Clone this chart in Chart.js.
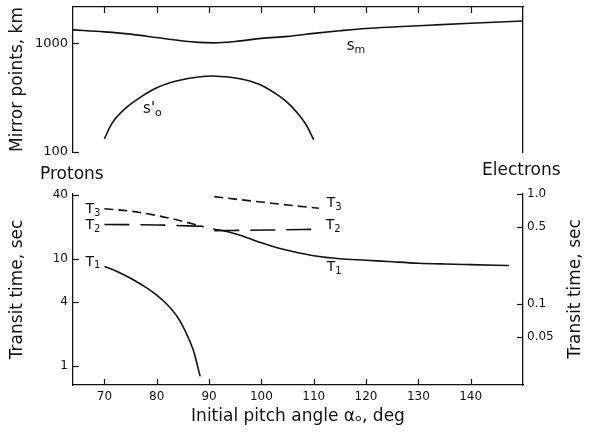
<!DOCTYPE html>
<html>
<head>
<meta charset="utf-8">
<script src="https://cdn.jsdelivr.net/npm/chart.js@4.4.1/dist/chart.umd.min.js"></script>
<style>
  html, body { margin:0; padding:0; background:#ffffff; }
  #wrap { position:relative; width:590px; height:436px; background:#ffffff; }
  #wrap canvas { position:absolute; left:0; top:0; }
</style>
</head>
<body>
<div id="wrap">
  <canvas id="bottomPanel" width="590" height="436"></canvas>
  <canvas id="topPanel" width="590" height="436"></canvas>
</div>
<script>
// ---------- values ----------
const xTickValues = [70, 80, 90, 100, 110, 120, 130, 140];

const mirrorTickValues = [100, 200, 300, 400, 500, 600, 700, 800, 900, 1000, 2000];
const mirrorTickLabels = [100, 1000];

const protonTickValues = [1, 2, 3, 4, 5, 6, 7, 8, 9, 10, 20, 30, 40];
const protonTickLabels = [1, 4, 10, 40];

const electronTickValues = [0.02, 0.03, 0.04, 0.05, 0.06, 0.07, 0.08, 0.09, 0.1, 0.2, 0.3, 0.4, 0.5, 0.6, 0.7, 0.8, 0.9, 1.0];
const electronTickLabels = [0.05, 0.1, 0.5, 1.0];

// mirror point s_m (km)
const smPitch = [64, 70, 75, 80, 85, 88, 91, 95, 100, 105, 110, 115, 120, 126, 133, 140, 150];
const smKm    = [1330, 1275, 1215, 1130, 1050, 1020, 1010, 1040, 1110, 1160, 1235, 1305, 1370, 1420, 1475, 1530, 1605];

// s'_o (km)
const soPitch = [70, 71, 72, 74, 77, 80, 83, 86, 88, 90.5, 93, 95, 97, 100, 103.5, 105, 106.7, 108.5, 110];
const soKm    = [132, 168, 200, 252, 322, 390, 440, 475, 490, 500, 492, 480, 460, 412, 325, 285, 234, 180, 130];

// protons, transit time (sec, left axis)
const pT1Pitch = [70, 72, 74, 76, 78, 80, 82, 84, 85.5, 87, 88.3];
const pT1Sec   = [8.5, 7.8, 7.0, 6.2, 5.4, 4.6, 3.75, 2.85, 2.1, 1.4, 0.8];
const pT2Pitch = [70, 80, 89];
const pT2Sec   = [21, 20.8, 20.2];
const pT3Pitch = [70, 75, 80, 85, 89];
const pT3Sec   = [29.5, 28, 25.5, 22.5, 20];

// electrons, transit time (sec, right axis)
const eT1Pitch = [90.8, 94, 97, 100, 103, 106, 110, 115, 120, 125, 130, 135, 140, 147.3];
const eT1Sec   = [0.48, 0.45, 0.405, 0.36, 0.325, 0.30, 0.275, 0.258, 0.25, 0.242, 0.235, 0.231, 0.228, 0.224];
const eT2Pitch = [91, 101, 111];
const eT2Sec   = [0.465, 0.47, 0.478];
const eT3Pitch = [91, 95, 100, 105, 111];
const eT3Sec   = [0.946, 0.898, 0.845, 0.794, 0.743];

// ---------- helpers ----------
const FONT = 'DejaVu Sans';
const INK = '#111111';
const pts = (xs, ys) => xs.map((x, i) => ({ x: x, y: ys[i] }));
const setTicks = list => (s) => { s.ticks = list.map(v => ({ value: v })); };

function line(data, yAxisID, dash) {
  return {
    data: data, yAxisID: yAxisID, xAxisID: 'x',
    borderColor: INK, borderWidth: 1.6, borderDash: dash || [],
    pointRadius: 0, fill: false, cubicInterpolationMode: 'monotone'
  };
}

// pins the plot frame of a panel, then lets every scale recompute its mapping
function makeFramePlugin(frame) {
  return {
    id: 'pinFrame',
    afterLayout(chart) {
      const a = chart.chartArea;
      a.left = frame.left; a.right = frame.right; a.top = frame.top; a.bottom = frame.bottom;
      a.width = frame.right - frame.left; a.height = frame.bottom - frame.top;
      Object.values(chart.scales).forEach(s => {
        if (s.isHorizontal()) {
          s.left = a.left; s.right = a.right; s.width = a.width;
          if (s.position === 'top') { s.bottom = a.top; s.top = a.top - s.height; }
          else { s.top = a.bottom; s.bottom = a.bottom + s.height; }
        } else {
          s.top = a.top; s.bottom = a.bottom; s.height = a.height;
          if (s.position === 'left') { s.right = a.left; s.left = a.left - s.width; }
          else { s.left = a.right; s.right = a.right + s.width; }
        }
        s.configure();
      });
    }
  };
}

// inward pointing tick marks, placed through each scale
function makeTickPlugin(axes) {
  return {
    id: 'inwardTicks',
    afterDraw(chart) {
      const ctx = chart.ctx;
      const area = chart.chartArea;
      ctx.save();
      ctx.setLineDash([]);
      ctx.strokeStyle = INK;
      ctx.lineWidth = 1.2;
      axes.forEach(cfg => {
        const s = chart.scales[cfg.scale];
        if (!s) return;
        s.ticks.forEach(t => {
          const major = cfg.allMajor || cfg.major.indexOf(t.value) >= 0;
          const len = major ? 6 : 3.5;
          const p = Math.round(s.getPixelForValue(t.value)) + 0.5;
          ctx.beginPath();
          if (cfg.side === 'left') { ctx.moveTo(area.left, p); ctx.lineTo(area.left + len, p); }
          else if (cfg.side === 'right') { ctx.moveTo(area.right, p); ctx.lineTo(area.right - len, p); }
          else if (cfg.side === 'top') { ctx.moveTo(p, area.top); ctx.lineTo(p, area.top + len); }
          else { ctx.moveTo(p, area.bottom); ctx.lineTo(p, area.bottom - len); }
          ctx.stroke();
        });
      });
      ctx.restore();
    }
  };
}

// curve labels anchored in data space, plus free text
function makeLabelPlugin(items, texts) {
  return {
    id: 'curveLabels',
    afterDraw(chart) {
      const ctx = chart.ctx;
      ctx.save();
      ctx.fillStyle = INK;
      ctx.textBaseline = 'middle';
      ctx.textAlign = 'left';
      items.forEach(it => {
        let px = chart.scales.x.getPixelForValue(it.x);
        const py = chart.scales[it.axis].getPixelForValue(it.y);
        it.parts.forEach(part => {
          const sub = part[1] === 'sub';
          ctx.font = (sub ? it.subSize : it.size) + 'px "' + FONT + '"';
          ctx.fillText(part[0], px, py + (sub ? it.subDrop : 0));
          px += ctx.measureText(part[0]).width;
        });
      });
      texts.forEach(t => {
        ctx.save();
        ctx.font = t.size + 'px "' + FONT + '"';
        ctx.textAlign = t.align || 'left';
        ctx.translate(t.px, t.py);
        if (t.rot) ctx.rotate(t.rot);
        ctx.fillText(t.text, 0, 0);
        ctx.restore();
      });
      ctx.restore();
    }
  };
}

const common = { responsive: false, animation: false, events: [], devicePixelRatio: 1 };
const noGrid = { display: false, drawTicks: false };
const border = { display: true, color: INK, width: 1.3 };

// ---------- top panel: mirror points ----------
new Chart(document.getElementById('topPanel'), {
  type: 'line',
  data: {
    datasets: [
      line(pts(smPitch, smKm), 'y'),
      line(pts(soPitch, soKm), 'y')
    ]
  },
  options: Object.assign({}, common, {
    layout: { autoPadding: false, padding: { top: 0, left: 0, right: 0, bottom: 284 } },
    plugins: { legend: { display: false }, tooltip: { enabled: false } },
    scales: {
      x: {
        type: 'linear', position: 'top', min: 64, max: 150,
        afterBuildTicks: setTicks(xTickValues),
        ticks: { display: false },
        grid: noGrid, border: border,
        afterFit: s => { s.height = 7; }
      },
      y: {
        type: 'logarithmic', position: 'left', min: 100, max: 2160,
        afterBuildTicks: setTicks(mirrorTickValues),
        ticks: { autoSkip: false, padding: 5, color: INK, font: { family: FONT, size: 13 },
          callback: v => mirrorTickLabels.includes(v) ? String(v) : null },
        grid: noGrid, border: border,
        title: { display: true, text: 'Mirror points, km', color: INK, font: { family: FONT, size: 17 }, padding: { top: 7, bottom: 0 } },
        afterFit: s => { s.width = 73; }
      },
      yr: {
        type: 'logarithmic', position: 'right', min: 100, max: 2160,
        afterBuildTicks: setTicks(mirrorTickValues),
        ticks: { autoSkip: false, padding: 0, callback: () => null },
        grid: noGrid, border: border,
        afterFit: s => { s.width = 67; }
      }
    }
  }),
  plugins: [
    makeFramePlugin({ left: 73, right: 523, top: 7, bottom: 152 }),
    makeTickPlugin([
      { scale: 'x', side: 'top', allMajor: true, major: [] },
      { scale: 'y', side: 'left', major: mirrorTickLabels },
      { scale: 'yr', side: 'right', major: mirrorTickLabels }
    ]),
    makeLabelPlugin([
      { x: 116.3, y: 944, axis: 'y', size: 15, subSize: 11, subDrop: 4, parts: [['s', ''], ['m', 'sub']] },
      { x: 77.4, y: 248, axis: 'y', size: 15, subSize: 11, subDrop: 4, parts: [['s', ''], ["'", ''], ['o', 'sub']] }
    ], [])
  ]
});

// ---------- bottom panel: transit times ----------
new Chart(document.getElementById('bottomPanel'), {
  type: 'line',
  data: {
    datasets: [
      line(pts(pT1Pitch, pT1Sec), 'yL'),
      line(pts(pT2Pitch, pT2Sec), 'yL', [25, 11]),
      line(pts(pT3Pitch, pT3Sec), 'yL', [9, 5]),
      line(pts(eT1Pitch, eT1Sec), 'yR'),
      line(pts(eT2Pitch, eT2Sec), 'yR', [25, 11]),
      line(pts(eT3Pitch, eT3Sec), 'yR', [9, 5])
    ]
  },
  options: Object.assign({}, common, {
    layout: { autoPadding: false, padding: { top: 194, left: 0, right: 0, bottom: 0 } },
    plugins: { legend: { display: false }, tooltip: { enabled: false } },
    scales: {
      x: {
        type: 'linear', position: 'bottom', min: 64, max: 150,
        afterBuildTicks: setTicks(xTickValues),
        ticks: { autoSkip: false, maxRotation: 0, padding: 5, color: INK, font: { family: FONT, size: 12 },
          callback: v => String(v) },
        grid: noGrid, border: border,
        title: { display: true, text: 'Initial pitch angle αₒ, deg', color: INK, font: { family: FONT, size: 17 }, padding: { top: 0, bottom: 9 } },
        afterFit: s => { s.height = 51; }
      },
      yL: {
        type: 'logarithmic', position: 'left', min: 0.664, max: 40.5,
        afterBuildTicks: setTicks(protonTickValues),
        ticks: { autoSkip: false, padding: 5, color: INK, font: { family: FONT, size: 12 },
          callback: v => protonTickLabels.includes(v) ? String(v) : null },
        grid: noGrid, border: border,
        title: { display: true, text: 'Transit time, sec', color: INK, font: { family: FONT, size: 17 }, padding: { top: 7, bottom: 0 } },
        afterFit: s => { s.width = 73; }
      },
      yR: {
        type: 'logarithmic', position: 'right', min: 0.01836, max: 1.0,
        afterBuildTicks: setTicks(electronTickValues),
        ticks: { autoSkip: false, padding: 4, color: INK, font: { family: FONT, size: 12 },
          callback: v => electronTickLabels.includes(v) ? (v === 1 ? '1.0' : String(v)) : null },
        grid: noGrid, border: border,
        afterFit: s => { s.width = 67; }
      }
    }
  }),
  plugins: [
    makeFramePlugin({ left: 73, right: 523, top: 194, bottom: 385 }),
    makeTickPlugin([
      { scale: 'x', side: 'bottom', allMajor: true, major: [] },
      { scale: 'yL', side: 'left', major: protonTickLabels },
      { scale: 'yR', side: 'right', major: electronTickLabels }
    ]),
    makeLabelPlugin([
      { x: 66.4, y: 29.3, axis: 'yL', size: 14, subSize: 10, subDrop: 4, parts: [['T', ''], ['3', 'sub']] },
      { x: 66.4, y: 20.8, axis: 'yL', size: 14, subSize: 10, subDrop: 4, parts: [['T', ''], ['2', 'sub']] },
      { x: 66.4, y: 9.4, axis: 'yL', size: 14, subSize: 10, subDrop: 4, parts: [['T', ''], ['1', 'sub']] },
      { x: 112.5, y: 0.828, axis: 'yR', size: 14, subSize: 10, subDrop: 4, parts: [['T', ''], ['3', 'sub']] },
      { x: 112.3, y: 0.523, axis: 'yR', size: 14, subSize: 10, subDrop: 4, parts: [['T', ''], ['2', 'sub']] },
      { x: 112.5, y: 0.217, axis: 'yR', size: 14, subSize: 10, subDrop: 4, parts: [['T', ''], ['1', 'sub']] }
    ], [
      { text: 'Protons', px: 40, py: 175, size: 17 },
      { text: 'Electrons', px: 482, py: 171, size: 17 },
      { text: 'Transit time, sec', px: 576, py: 289, size: 17, align: 'center', rot: -Math.PI / 2 }
    ])
  ]
});
</script>
</body>
</html>
